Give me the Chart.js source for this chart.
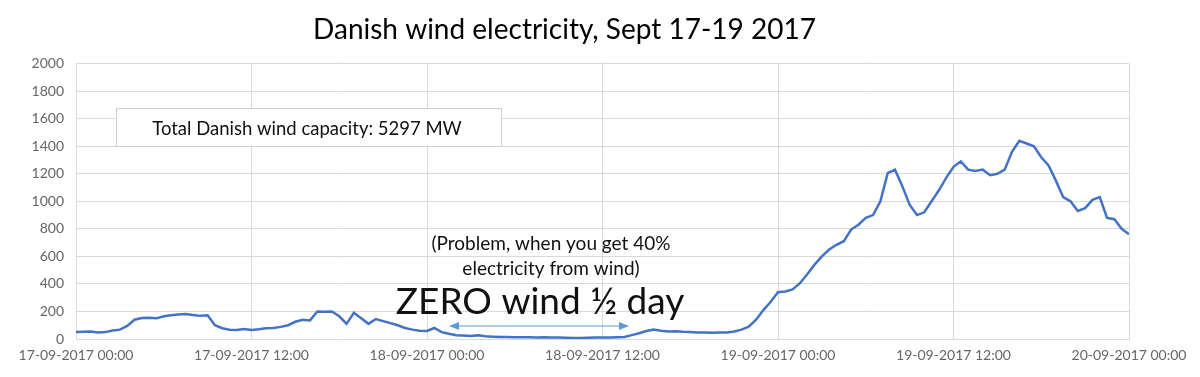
<!DOCTYPE html>
<html lang="en">
<head>
  <meta charset="UTF-8">
  <title>Danish wind electricity</title>
  <script src="https://cdn.jsdelivr.net/npm/chart.js"></script>
  <style>
    * { margin: 0; padding: 0; box-sizing: border-box; }
    body { background: #fff; width: 1200px; height: 377px; overflow: hidden; }
    canvas { display: block; }
  </style>
</head>
<body>
  <canvas id="wind" width="1200" height="377"></canvas>

  <script>
    // half-hourly readings, 17-09-2017 00:00 .. 20-09-2017 00:00 (MW)
    const stepHours = 0.5;
    const windMW = [
      50, 52, 55, 48, 50, 62, 68, 95, 140, 152, 155, 150, 165, 172, 178, 182, 175, 168, 172, 100, 78, 68, 65, 72,
      66, 70, 78, 80, 88, 100, 125, 140, 135, 200, 198, 200, 165, 110, 190, 150, 110, 145, 130, 115, 100, 80, 68, 60,
      58, 80, 50, 38, 28, 25, 22, 28, 20, 17, 15, 14, 12, 13, 12, 11, 12, 10, 10, 9, 8, 8, 9, 10,
      10, 10, 12, 15, 28, 42, 58, 68, 60, 55, 56, 52, 50, 48, 47, 46, 47, 48, 55, 68, 90, 140, 210, 270,
      340, 345, 360, 405, 470, 540, 600, 650, 684, 710, 795, 830, 880, 900, 1000, 1205, 1230, 1110, 975, 900, 920, 1000, 1080, 1170,
      1250, 1290, 1230, 1220, 1230, 1190, 1200, 1230, 1360, 1440, 1420, 1400, 1320, 1260, 1150, 1030, 1000, 930, 950, 1010, 1030, 880, 870, 800,
      760
    ];
    const tickHours = [0, 12, 24, 36, 48, 60, 72];
    const startDay = 17;

    const titleText = "Danish wind electricity, Sept 17-19 2017";
    const capacityNote = "Total Danish wind capacity: 5297 MW";
    const problemNote = ["(Problem, when you get 40%", "electricity from wind)"];
    const zeroNote = "ZERO wind \u00BD day";

    const points = windMW.map((v, i) => ({ x: i * stepHours, y: v }));

    function hourLabel(h) {
      const day = startDay + Math.floor(h / 24);
      const hh = String(h % 24).padStart(2, "0");
      return day + "-09-2017 " + hh + ":00";
    }

    const notes = {
      id: "notes",
      afterDraw(chart) {
        const ctx = chart.ctx;
        ctx.save();

        // capacity box
        ctx.fillStyle = "#fff";
        ctx.fillRect(116, 108, 386, 39);
        ctx.strokeStyle = "#cfcfcf";
        ctx.lineWidth = 1;
        ctx.strokeRect(116.5, 108.5, 385, 38);
        ctx.fillStyle = "#111";
        ctx.font = "18.5px Lato";
        ctx.textAlign = "center";
        ctx.textBaseline = "middle";
        ctx.fillText(capacityNote, 307, 129);

        // problem text
        ctx.font = "19px Lato";
        ctx.fillText(problemNote[0], 551, 244);
        ctx.fillText(problemNote[1], 551, 269);

        ctx.font = "37px Lato";
        ctx.fillText(zeroNote, 540, 302);

        // double arrow
        const y = 326, x1 = 449, x2 = 629;
        ctx.strokeStyle = "#5B9BD5";
        ctx.fillStyle = "#5B9BD5";
        ctx.beginPath();
        ctx.moveTo(x1 + 8, y);
        ctx.lineTo(x2 - 8, y);
        ctx.stroke();
        ctx.beginPath();
        ctx.moveTo(x1, y);
        ctx.lineTo(x1 + 10, y - 4);
        ctx.lineTo(x1 + 10, y + 4);
        ctx.closePath();
        ctx.fill();
        ctx.beginPath();
        ctx.moveTo(x2, y);
        ctx.lineTo(x2 - 10, y - 4);
        ctx.lineTo(x2 - 10, y + 4);
        ctx.closePath();
        ctx.fill();

        ctx.restore();
      }
    };

    new Chart(document.getElementById("wind"), {
      type: "line",
      data: {
        datasets: [{
          data: points,
          borderColor: "#4472C4",
          borderWidth: 2.5,
          pointRadius: 0,
          tension: 0,
          fill: false
        }]
      },
      options: {
        responsive: false,
        animation: false,
        devicePixelRatio: 1,
        layout: { padding: { left: 0, right: 71, top: 0, bottom: 0 } },
        plugins: {
          legend: { display: false },
          tooltip: { enabled: false },
          title: {
            display: true,
            text: titleText,
            color: "#000",
            font: { family: "Lato", size: 28, weight: "normal", lineHeight: 1.2 },
            padding: { top: 13, bottom: 17 }
          }
        },
        scales: {
          x: {
            type: "linear",
            min: 0,
            max: 72,
            afterBuildTicks(scale) {
              scale.ticks = tickHours.map(v => ({ value: v }));
            },
            afterFit(scale) { scale.height = 38; },
            grid: { color: "#d9d9d9", lineWidth: 1, drawTicks: false },
            border: { color: "#d9d9d9" },
            ticks: {
              color: "#666",
              font: { family: "Lato", size: 14 },
              padding: 8,
              maxRotation: 0,
              autoSkip: false,
              callback: v => hourLabel(v)
            }
          },
          y: {
            min: 0,
            max: 2000,
            afterFit(scale) { scale.width = 76; },
            grid: { color: "#d9d9d9", lineWidth: 1, drawTicks: false },
            border: { display: false },
            ticks: {
              stepSize: 200,
              color: "#666",
              font: { family: "Lato", size: 14 },
              padding: 12,
              callback: v => String(v)
            }
          }
        }
      },
      plugins: [notes]
    });
  </script>
</body>
</html>
